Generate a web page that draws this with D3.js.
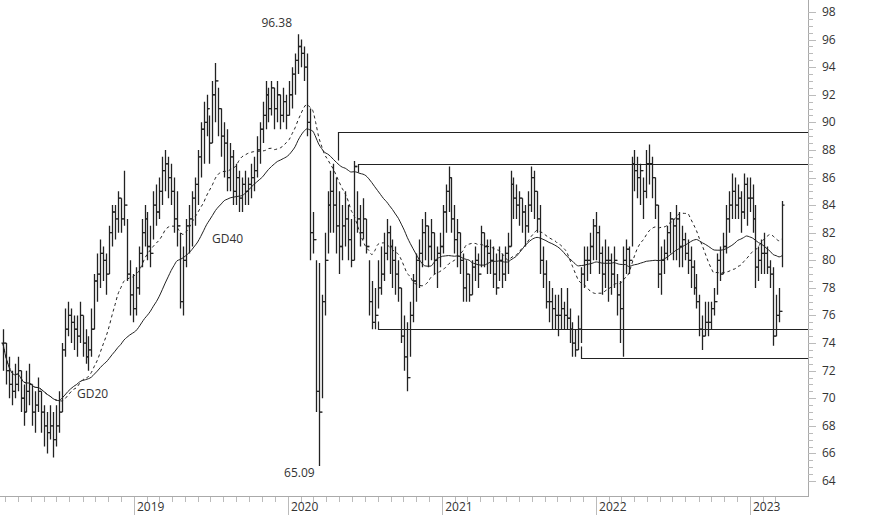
<!DOCTYPE html>
<html>
<head>
<style>
body { margin: 0; background: #fff; }
text { font-family: "Open Sans", "DejaVu Sans", sans-serif; font-size: 12px; fill: #333; }
</style>
</head>
<body>
<svg width="874" height="515"></svg>
<script src="https://d3js.org/d3.v7.min.js"></script>
<script>

// weekly bars: [high, low, close]
let bars = [
[75,72,74],[74,71,72],[73,70,71],[72,69.5,70.5],[72.5,70,71],[73,70.5,72],[72,69,70],[71,68,69],[72,69,70.5],[72.5,69.5,71],
[71,68,69],[70.5,67.5,69.5],[71.5,69,70.5],[70.5,67.5,69],[69.5,66.5,68],[69,66,67.5],[69.5,67,68],[69,65.7,67],[69.5,66.5,68],[70.5,67.5,69],
[74,69,73.5],[76.5,73,75],[77,74.5,76],[76.5,74,75.5],[76,73.5,75],[76,73,74.5],[77,74,76],[76,73,74],[75,72.5,73],[74.5,72,73.5],[76.5,73,75],
[79,75,78.5],[80.5,77,79],[81.5,78,80.5],[81,78.5,80],[80.5,77.5,79],[82.5,79,82],[84,81,83.5],[84,81.5,83],[85,82,84.5],[84.5,82,83],[86.5,82.5,84],
[83,78.5,79],[80,76,77.5],[79,75.5,76.5],[79.5,76,78],
[81,77.5,80.5],[83,79.5,82],[84,81,83],[83.5,80,81],[82.5,79.5,80.5],[85,81.5,84],[85.5,82.5,83.5],[86,83,85],
[87.5,84,86.5],[88,85,87],[87.5,84.5,86],[87,84,85],[86,82,83],[85,81,82.5],
[82,76.5,77],[81,76,80],
[83,79.5,82.5],[84,80.5,83],[85,81,84.5],[86,82.5,85.5],
[88,84,87.5],[90,86,89.5],[91.5,87,90],[92,89,91],[90.5,87,88.5],[93,88.5,92],[94.3,90,93],
[92.5,89,91],[91,87.5,89],[90,86,88.5],[89.5,85,86],[88.5,85,87.5],[88,84,85],[87,84,86],[86.5,83.5,84.5],[86,83.5,85.5],[86.5,84,85],[86,84,85.5],[87,84.5,86],[87.5,85,86.5],
[89,86,88],[90,87,89.5],[91.5,88.5,90.5],[93,89.5,92],[92.5,90,91],[93,90.5,92.5],[92.5,89.5,91],
[93,90,92],[92,89.5,90.5],[92.5,90,91.5],[92,89.5,90.5],[93,90.5,92],[94,91,93.5],[95,92,94.5],[96.38,93.5,95.5],[96,94,95],[95.5,93,94],
[95,89,90],[91,80,82],[83.5,80.5,81.5],[80,69,70.5],[79.8,65.09,69],[77.5,70,77],[82,76,80],[85,80.5,84],[86.5,82,85],
[87,82,84],[86,80.5,82.5],[85,79,81],[84,80,82.5],[85,81,83],[84,80,81.5],[83,79.5,80],[87.2,80,86.8],[85,82,83],
[84,81,82],[84.5,81.5,83],[83,80.5,81],[80,76,77],[78.5,75,75.5],[78,75,76],
[80,76.5,78],[81,77.5,79],[82,78.5,80.5],[83,80,82],[82.5,79,81],[81.5,78,80],[81,77.5,79],[80,77,78],
[78,74,74.5],[76,72,73],[75.5,70.5,71.5],[77,73,76],[79,75.5,78.5],[80.5,77,80],
[81.5,78,80.5],[83,79.5,82],[83.5,80,82.5],[82.5,79.5,81],[83,80,82],[82,79,80],[81,78,80.5],[82,79.5,81],
[84,80.5,83.5],[85.5,82,85],[86.8,83.5,86],[86,82,83],[84,80.5,81.5],
[83,79.5,82],[82,79,80],[80.5,77,78],[80,77,79],[79,77,77.5],[80,77.5,79.5],[81,78.5,80],[80.5,78,79],
[82.5,79.5,82],[82,79.5,81],[81.5,79,80.5],[81.5,79,80],[81,78,79],[80.5,77.5,78],[81,78.5,80],[80.5,78,79],[81,78.5,80.5],[82,79,81],
[86.5,81,85.5],[86,83,84.5],[85.5,83,84],[85,82.5,84.5],[84.5,82,83.5],[84,81,82.5],[85,82,84],[86.8,83.5,86],[86.5,83,85],[85,82,83],[84,79,80],[81,78,79],[80,76.5,77],
[78.5,75.5,77],[78,75,76.5],[77.5,75,76],[77.5,74.5,76],[78,75,76.5],[77,75,76],[78,75,75.8],[76.5,74,75],[75.5,73,74],[75,73,73.5],[76,73.5,75],
[79.5,74,79],[81,78,80],[81,78.5,80],[82,79,81],[83,80,82.5],[83.5,80,82],[82.5,79,80.5],
[81,77.5,79],[81.5,78,80],[81,77,80],[80.5,77.5,79],[81,78,80],[79,76,77.5],[78.5,74,76.5],
[81,73,80],[81.5,79,80.8],[81,79,80],
[87.5,81,87],[88,85,86.5],[87.5,84.5,86],[87,84,86.5],[86,83,85],[88,84.5,87],[88.4,85.5,87],[87.5,84.5,86],[86,83,84],
[84,78,79],[81,77.5,80],[81.5,79,80.5],[82.5,80,82],[83.5,80.5,83],[83,80,82.5],
[84,80,83],[83.5,79.5,81],[82.5,79.5,81.5],[82,80,80.5],[81.5,79,80],[81,78,79.5],
[80,77.5,78],[79,76.5,77],[77.5,74.5,75],[76,73.5,74.5],[77,74.5,75.5],[77,74.5,75.5],[77,75,76.5],[78,76,77],
[80.5,77.5,80],[81,78.5,79],[82,79,81],[84,80.5,83],
[85,82,84],[86.3,83,85],[86,83,84],[85.5,83,84.5],[85,82,83.5],[86.3,83,85.5],[86,82.5,84.5],[86,83.5,84.5],[85.5,82,83],
[84,78,79.5],[81,78.5,80],[81.5,79,80.5],[82,79,80.5],[81,79,79.5],[80,78,79],
[79.5,73.8,74.5],[77.5,74.5,76],[78,75.5,76.3],[84.3,79.5,84]
];

let firstWeek = new Date(2018, 1, 24);
let yTicks = d3.range(64, 99, 2);
let channels = [ // [start date, level, tail]
  [new Date(2020, 3, 28), 89.3, 28],
  [new Date(2020, 5, 15), 87.0, 8],
  [new Date(2020, 7, 1), 75.0, -8],
  [new Date(2021, 10, 25), 72.9, -12]
];

let svg = d3.select('svg');
let x = d3.scaleTime().domain([new Date(2019, 0, 1), new Date(2023, 0, 1)]).range([134, 750]);
let y = d3.scaleLinear().domain([64, 98]).range([481, 12]);

let data = bars.map(function(b, i) {
  return { date: d3.timeWeek.offset(firstWeek, i), hi: b[0], lo: b[1], close: b[2],
           open: i > 0 ? bars[i - 1][2] : b[2] };
});

function sma(n) {
  return data.map(function(d, i) {
    let s = data.slice(Math.max(0, i - n + 1), i + 1);
    return { date: d.date, v: d3.mean(s, function(e) { return e.close; }) };
  });
}

// axes
svg.append('line').attr('x1', 0).attr('x2', 808).attr('y1', 496.5).attr('y2', 496.5).attr('stroke', '#aaa');
svg.append('line').attr('x1', 808.5).attr('x2', 808.5).attr('y1', 0).attr('y2', 497).attr('stroke', '#aaa');

let months = d3.timeMonth.range(new Date(2018, 0, 1), new Date(2023, 3, 1));
svg.selectAll('.mt').data(months).join('line')
  .attr('x1', function(d) { return Math.round(x(d)) + 0.5; })
  .attr('x2', function(d) { return Math.round(x(d)) + 0.5; })
  .attr('y1', 497)
  .attr('y2', function(d) { return d.getMonth() == 0 ? 515 : 502; })
  .attr('stroke', '#bbb');
svg.selectAll('.yl').data(months.filter(function(d) { return d.getMonth() == 0 && d.getFullYear() > 2018; })).join('text')
  .attr('x', function(d) { return x(d) + 3; })
  .attr('y', 511)
  .text(function(d) { return d.getFullYear(); });

svg.selectAll('.yt').data(d3.range(64, 98.1, 0.5)).join('line')
  .attr('x1', 808)
  .attr('x2', function(d) { return d % 2 == 0 ? 816 : 813; })
  .attr('y1', function(d) { return Math.round(y(d)) + 0.5; })
  .attr('y2', function(d) { return Math.round(y(d)) + 0.5; })
  .attr('stroke', '#bbb');
svg.selectAll('.ytl').data(yTicks).join('text')
  .attr('x', 822)
  .attr('y', function(d) { return y(d) + 4; })
  .text(function(d) { return d; });

// channel lines
channels.forEach(function(c) {
  let x0 = Math.round(x(c[0])) + 0.5, y0 = Math.round(y(c[1])) + 0.5;
  svg.append('path')
    .attr('d', 'M' + x0 + ',' + (y0 + c[2]) + 'V' + y0 + 'H808')
    .attr('fill', 'none').attr('stroke', '#222').attr('stroke-width', 1.2);
});

// moving averages
let line = d3.line().x(function(d) { return x(d.date); }).y(function(d) { return y(d.v); }).curve(d3.curveMonotoneX);
svg.append('path').attr('d', line(sma(40))).attr('fill', 'none').attr('stroke', '#222').attr('stroke-width', 1);
svg.append('path').attr('d', line(sma(20))).attr('fill', 'none').attr('stroke', '#222').attr('stroke-width', 1).attr('stroke-dasharray', '3,3');

// OHLC bars
let g = svg.append('g').attr('stroke', '#222').attr('stroke-width', 1.3);
g.selectAll('.bar').data(data).join('path')
  .attr('d', function(d) {
    let cx = Math.round(x(d.date)) + 0.5;
    return 'M' + cx + ',' + y(d.hi) + 'V' + y(d.lo) +
      'M' + (cx - 2) + ',' + y(d.open) + 'H' + cx +
      'M' + cx + ',' + y(d.close) + 'H' + (cx + 2);
  });

// labels
let hiBar = data.reduce(function(a, b) { return b.hi > a.hi ? b : a; });
let loBar = data.reduce(function(a, b) { return b.lo < a.lo ? b : a; });
svg.append('text').attr('x', x(hiBar.date) - 6).attr('y', y(hiBar.hi) - 7).attr('text-anchor', 'end').text(hiBar.hi.toFixed(2));
svg.append('text').attr('x', x(loBar.date) - 4).attr('y', y(loBar.lo) + 11).attr('text-anchor', 'end').text(loBar.lo.toFixed(2));
svg.append('text').attr('x', 212).attr('y', 243).text('GD40');
svg.append('text').attr('x', 77).attr('y', 398).text('GD20');
</script>
</body>
</html>
